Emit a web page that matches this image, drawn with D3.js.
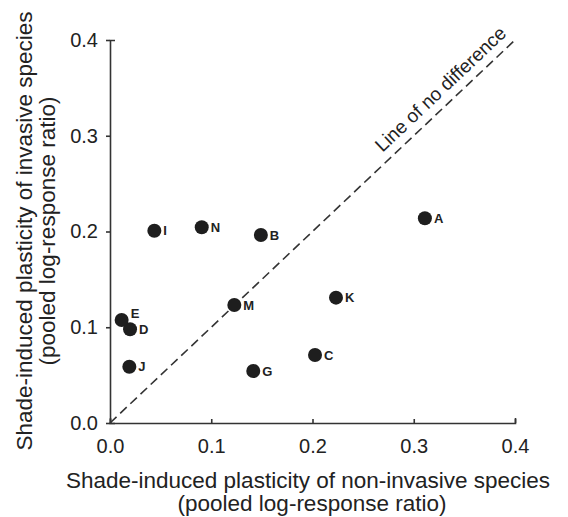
<!DOCTYPE html>
<html>

<head>
  <title>Shade-induced plasticity</title>
  <script src="https://cdn.jsdelivr.net/npm/d3@7"></script>
  <style>
    body { margin: 0; background: #fff; }
    text { font-family: "Liberation Sans", Arial, sans-serif; fill: #222; }
  </style>
</head>

<body>
  <svg width="568" height="517" id="mainsvg"></svg>
  <script>
    // species codes and pooled log-response ratios
    const species = ['A', 'B', 'C', 'D', 'E', 'G', 'I', 'J', 'K', 'M', 'N'];
    const nonInvasive = [0.311, 0.149, 0.2025, 0.0198, 0.0115, 0.1415, 0.0438, 0.0191, 0.2232, 0.1228, 0.0906];
    const invasive = [0.2138, 0.1963, 0.0710, 0.0979, 0.1075, 0.0543, 0.2008, 0.0587, 0.1309, 0.1232, 0.2044];
    const tickValues = [0, 0.1, 0.2, 0.3, 0.4];
    const lineLabel = 'Line of no difference';

    const svg = d3.select('#mainsvg');
    const margin = { top: 40, right: 53, bottom: 94, left: 110 };
    const width = +svg.attr('width');
    const height = +svg.attr('height');
    const innerWidth = width - margin.left - margin.right;
    const innerHeight = height - margin.top - margin.bottom;

    const data = species.map((s, i) => ({ name: s, x: nonInvasive[i], y: invasive[i] }));

    const xScale = d3.scaleLinear().domain([0, 0.4]).range([0, innerWidth]);
    const yScale = d3.scaleLinear().domain([0, 0.4]).range([innerHeight, 0]);

    const g = svg.append('g')
      .attr('transform', `translate(${margin.left}, ${margin.top})`);

    // axes
    const xAxis = d3.axisBottom(xScale)
      .tickValues(tickValues)
      .tickFormat(d3.format('.1f'))
      .tickSizeInner(-4)
      .tickSizeOuter(-5)
      .tickPadding(16);
    const yAxis = d3.axisLeft(yScale)
      .tickValues(tickValues)
      .tickFormat(d3.format('.1f'))
      .tickSizeInner(4)
      .tickSizeOuter(-5)
      .tickPadding(8);

    const xAxisGroup = g.append('g')
      .attr('transform', `translate(0, ${innerHeight})`)
      .call(xAxis);
    const yAxisGroup = g.append('g').call(yAxis);

    [xAxisGroup, yAxisGroup].forEach(ax => {
      ax.selectAll('.domain, .tick line').attr('stroke', '#333').attr('stroke-width', 1.6);
      ax.selectAll('.tick text').attr('font-size', 20).attr('font-family', null).attr('fill', '#222');
    });

    // line of no difference
    g.append('line')
      .attr('x1', xScale(0)).attr('y1', yScale(0))
      .attr('x2', xScale(0.4)).attr('y2', yScale(0.4))
      .attr('stroke', '#333')
      .attr('stroke-width', 1.6)
      .attr('stroke-dasharray', '9,5');

    const angle = Math.atan2(yScale(0) - yScale(0.4), xScale(0.4) - xScale(0)) * 180 / Math.PI;
    g.append('text')
      .attr('transform', `translate(${xScale(0.337)}, ${yScale(0.337)}) rotate(${-angle})`)
      .attr('y', -9)
      .attr('text-anchor', 'middle')
      .attr('font-size', 19)
      .text(lineLabel);

    // points
    g.selectAll('circle')
      .data(data)
      .enter()
      .append('circle')
      .attr('cx', d => xScale(d.x))
      .attr('cy', d => yScale(d.y))
      .attr('r', 7)
      .attr('fill', '#1e1e1e');

    g.selectAll('.pt-label')
      .data(data)
      .enter()
      .append('text')
      .attr('class', 'pt-label')
      .attr('x', d => xScale(d.x) + 9)
      .attr('y', d => yScale(d.y) + (d.name === 'E' ? -7 : 0))
      .attr('dy', '0.36em')
      .attr('font-size', 13)
      .attr('font-weight', 'bold')
      .text(d => d.name);

    // axis titles
    const xTitle = svg.append('text')
      .attr('x', 308)
      .attr('y', 488)
      .attr('text-anchor', 'middle')
      .attr('font-size', 22.5);
    xTitle.append('tspan').text('Shade-induced plasticity of non-invasive species');
    xTitle.append('tspan').attr('x', 312).attr('y', 511).text('(pooled log-response ratio)');

    const yTitle = svg.append('text')
      .attr('transform', 'translate(32, 231) rotate(-90)')
      .attr('text-anchor', 'middle')
      .attr('font-size', 22.5);
    yTitle.append('tspan').attr('x', 0).attr('y', 0).text('Shade-induced plasticity of invasive species');
    yTitle.append('tspan').attr('x', 0).attr('y', 23).text('(pooled log-response ratio)');
  </script>
</body>

</html>
